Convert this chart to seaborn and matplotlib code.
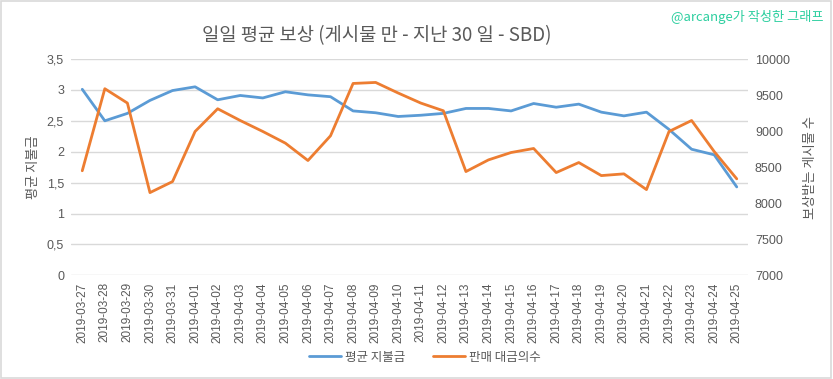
import matplotlib
matplotlib.use("Agg")
import matplotlib.pyplot as plt
import seaborn as sns
import pandas as pd
from matplotlib.lines import Line2D

dates = ["2019-03-27", "2019-03-28", "2019-03-29", "2019-03-30", "2019-03-31",
         "2019-04-01", "2019-04-02", "2019-04-03", "2019-04-04", "2019-04-05",
         "2019-04-06", "2019-04-07", "2019-04-08", "2019-04-09", "2019-04-10",
         "2019-04-11", "2019-04-12", "2019-04-13", "2019-04-14", "2019-04-15",
         "2019-04-16", "2019-04-17", "2019-04-18", "2019-04-19", "2019-04-20",
         "2019-04-21", "2019-04-22", "2019-04-23", "2019-04-24", "2019-04-25"]
avg_payout = [3.01, 2.50, 2.62, 2.83, 2.99, 3.05, 2.84, 2.91, 2.87, 2.97,
              2.92, 2.89, 2.66, 2.63, 2.57, 2.59, 2.62, 2.70, 2.70, 2.66,
              2.78, 2.72, 2.77, 2.64, 2.58, 2.64, 2.36, 2.04, 1.95, 1.43]
post_count = [8450, 9588, 9389, 8147, 8300, 8995, 9310, 9147, 8995, 8833,
              8592, 8935, 9661, 9675, 9528, 9389, 9282, 8439, 8601, 8703,
              8759, 8425, 8564, 8383, 8407, 8189, 8995, 9147, 8717, 8338]
left_ticks = [0, 0.5, 1, 1.5, 2, 2.5, 3, 3.5]
left_tick_labels = ["0", "0,5", "1", "1,5", "2", "2,5", "3", "3,5"]
right_ticks = [7000, 7500, 8000, 8500, 9000, 9500, 10000]

title = "일일 평균 보상 (게시물 만 - 지난 30 일 - SBD)"
watermark = "@arcange가 작성한 그래프"
left_label = "평균 지불금"
right_label = "보상받는 게시물 수"
series1_name = "평균 지불금"
series2_name = "판매 대금의수"

sns.set_theme(style="white")
plt.rcParams['font.family'] = ['Noto Sans CJK KR', 'DejaVu Sans']

df = pd.DataFrame({"idx": range(len(dates)), "date": dates,
                   "avg": avg_payout, "cnt": post_count})

blue = "#5b9bd5"
orange = "#ed7d31"
gray = "#595959"
grid = "#d9d9d9"

fig = plt.figure(figsize=(8.33, 3.79), dpi=100)
ax = fig.add_axes([0.0852, 0.2736, 0.8128, 0.5707])
ax2 = ax.twinx()

sns.lineplot(data=df, x="idx", y="avg", ax=ax, color=blue, linewidth=2, legend=False)
sns.lineplot(data=df, x="idx", y="cnt", ax=ax2, color=orange, linewidth=2, legend=False)

ax.set_xlim(-0.5, len(dates) - 0.5)
ax.set_ylim(0, 3.5)
ax2.set_ylim(7000, 10000)
ax.set_yticks(left_ticks)
ax.set_yticklabels(left_tick_labels)
ax2.set_yticks(right_ticks)
ax2.set_yticklabels([str(v) for v in right_ticks])
ax.set_xticks(range(len(dates)))
ax.set_xticklabels(dates, rotation=90, fontsize=8, color=gray, family=['Liberation Sans'])

for a in (ax, ax2):
    for s in a.spines.values():
        s.set_visible(False)
    a.tick_params(axis='both', length=0, labelsize=8.5, labelcolor=gray, pad=5)
ax.tick_params(axis='x', pad=5)
ax.yaxis.grid(True, color=grid, linewidth=1)
ax.set_axisbelow(True)
ax.set_xlabel("")
ax.set_ylabel(left_label, color=gray, fontsize=9.5, labelpad=5)
ax2.set_ylabel(right_label, color=gray, fontsize=9.5, rotation=90, labelpad=10)
for lbl in ax.get_yticklabels() + ax2.get_yticklabels():
    lbl.set_family(['Liberation Sans'])
    lbl.set_fontsize(9)

fig.text(0.452, 0.905, title, ha="center", va="center", fontsize=13.5, color=gray)
fig.text(0.988, 0.955, watermark, ha="right", va="center", fontsize=9.5, color="#2ecfa0")

handles = [Line2D([], [], color=blue, linewidth=2), Line2D([], [], color=orange, linewidth=2)]
fig.legend(handles, [series1_name, series2_name], loc="center", bbox_to_anchor=(0.51, 0.058),
           ncol=2, frameon=False, fontsize=9, labelcolor=gray, handlelength=2.6,
           handletextpad=0.3, columnspacing=2.2)

border = plt.Rectangle((0.001, 0.002), 0.997, 0.995, transform=fig.transFigure,
                       fill=False, edgecolor="#d9d9d9", linewidth=1.2)
fig.patches.append(border)

fig.savefig("out.png", dpi=100)
